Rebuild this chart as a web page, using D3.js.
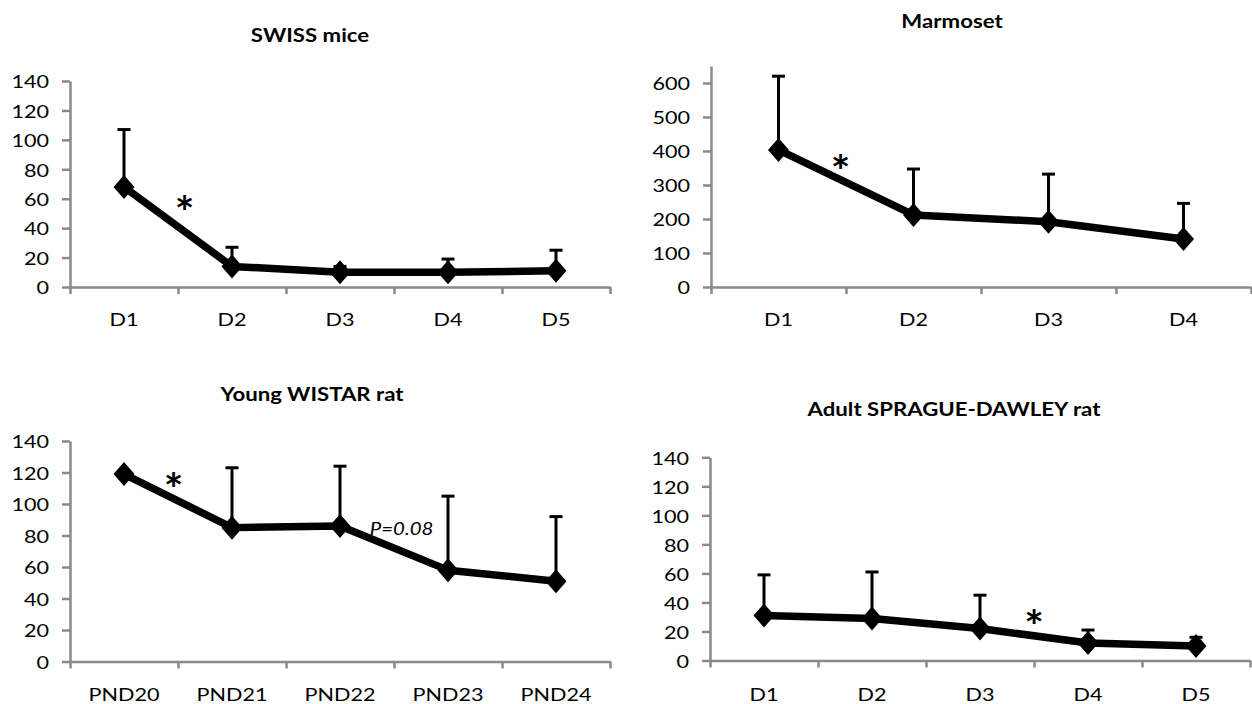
<!DOCTYPE html>
<html>
<head>
<meta charset="utf-8">
<script src="https://cdn.jsdelivr.net/npm/d3@7"></script>
<style>
  html, body { margin: 0; padding: 0; background: #fff; }
  svg { display: block; }
  text { font-family: Lato, "Open Sans", sans-serif; fill: #000; }
</style>
</head>
<body>
<svg id="chart" width="1252" height="704"></svg>
<script>
// ---------- DATA ----------
const swissTitle = "SWISS mice";
const swissCats = ["D1", "D2", "D3", "D4", "D5"];
const swissMeans = [68, 14, 10, 10, 11];
const swissErr = [39, 13, 4, 9, 14];
const swissTicks = [0, 20, 40, 60, 80, 100, 120, 140];

const marmTitle = "Marmoset";
const marmCats = ["D1", "D2", "D3", "D4"];
const marmMeans = [403, 212, 192, 141];
const marmErr = [217, 135, 140, 105];
const marmTicks = [0, 100, 200, 300, 400, 500, 600];

const wistarTitle = "Young WISTAR rat";
const wistarCats = ["PND20", "PND21", "PND22", "PND23", "PND24"];
const wistarMeans = [119, 85, 86, 58, 51];
const wistarErr = [0, 38, 38, 47, 41];
const wistarTicks = [0, 20, 40, 60, 80, 100, 120, 140];

const sdTitle = "Adult SPRAGUE-DAWLEY rat";
const sdCats = ["D1", "D2", "D3", "D4", "D5"];
const sdMeans = [31, 29, 22, 12, 10];
const sdErr = [28, 32, 23, 9, 6];
const sdTicks = [0, 20, 40, 60, 80, 100, 120, 140];

// annotations: [category position (index units), value, text, italic]
const swissNotes = [[0.56, 57, "*", false]];
const marmNotes = [[0.46, 368, "*", false]];
const wistarNotes = [[0.46, 115, "*", false], [2.57, 80.4, "P=0.08", true]];
const sdNotes = [[2.5, 30.3, "*", false]];

// ---------- LAYOUT ----------
const panels = [
  { title: swissTitle, cats: swissCats, means: swissMeans, err: swissErr, ticks: swissTicks, notes: swissNotes,
    x0: 70, x1: 610, y0: 287, y1: 81, ymax: 140, tx: 310, ty: 42, lab: 326 },
  { title: marmTitle, cats: marmCats, means: marmMeans, err: marmErr, ticks: marmTicks, notes: marmNotes,
    x0: 711, x1: 1251, y0: 287, y1: 66, ymax: 650, tx: 952, ty: 28, lab: 326 },
  { title: wistarTitle, cats: wistarCats, means: wistarMeans, err: wistarErr, ticks: wistarTicks, notes: wistarNotes,
    x0: 70, x1: 610, y0: 661.5, y1: 441, ymax: 140, tx: 312, ty: 401, lab: 701 },
  { title: sdTitle, cats: sdCats, means: sdMeans, err: sdErr, ticks: sdTicks, notes: sdNotes,
    x0: 710, x1: 1250, y0: 660.5, y1: 457.3, ymax: 140, tx: 954, ty: 416, lab: 701 }
];

const SX = 1.2; // horizontal text stretch of the original
const axisColor = "#8a8a8a";
const svg = d3.select("#chart");

function addText(g, x, y, str, opts) {
  const t = g.append("text")
    .attr("transform", `translate(${x},${y}) scale(${opts.sx || SX},1)`)
    .attr("text-anchor", opts.anchor || "middle")
    .style("font-size", (opts.size || 18) + "px")
    .text(str);
  if (opts.bold) t.style("font-weight", "bold");
  if (opts.italic) t.style("font-style", "italic");
  if (opts.baseline) t.attr("dominant-baseline", opts.baseline);
  return t;
}

panels.forEach(p => {
  const g = svg.append("g");
  const x = d3.scaleBand().domain(p.cats).range([p.x0, p.x1]).paddingInner(0).paddingOuter(0);
  const y = d3.scaleLinear().domain([0, p.ymax]).range([p.y0, p.y1]);
  const cx = i => x(p.cats[0]) + x.step() * (i + 0.5);

  // y axis
  const yAxis = d3.axisLeft(y).tickValues(p.ticks).tickSize(8).tickSizeOuter(0).tickFormat(() => "");
  const ya = g.append("g").attr("transform", `translate(${p.x0},0)`).call(yAxis);
  ya.selectAll("path, line").attr("stroke", axisColor).attr("stroke-width", 2.5);
  p.ticks.forEach(v => addText(g, p.x0 - 21, y(v), String(v), { anchor: "end", size: 18, baseline: "central" }));

  // x axis: tick marks at category boundaries
  const xb = d3.scaleLinear().domain([0, p.cats.length]).range([p.x0, p.x1]);
  const xAxis = d3.axisBottom(xb).tickValues(d3.range(p.cats.length + 1)).tickSize(7).tickSizeOuter(0).tickFormat(() => "");
  const xa = g.append("g").attr("transform", `translate(0,${p.y0})`).call(xAxis);
  xa.selectAll("path, line").attr("stroke", axisColor).attr("stroke-width", 2.5);
  p.cats.forEach((c, i) => addText(g, cx(i), p.lab, c, { size: 18 }));

  // title
  addText(g, p.tx, p.ty, p.title, { size: 18.5, bold: true });

  // error bars (upward only)
  p.means.forEach((m, i) => {
    if (!p.err[i]) return;
    const top = y(m + p.err[i]);
    g.append("line").attr("x1", cx(i)).attr("x2", cx(i)).attr("y1", y(m)).attr("y2", top)
      .attr("stroke", "#000").attr("stroke-width", 3);
    g.append("line").attr("x1", cx(i) - 6.5).attr("x2", cx(i) + 6.5).attr("y1", top).attr("y2", top)
      .attr("stroke", "#000").attr("stroke-width", 3);
  });

  // line
  const line = d3.line().x((d, i) => cx(i)).y(d => y(d));
  g.append("path").datum(p.means).attr("d", line)
    .attr("fill", "none").attr("stroke", "#000").attr("stroke-width", 7.5).attr("stroke-linejoin", "round");

  // diamond markers
  p.means.forEach((m, i) => {
    const px = cx(i), py = y(m), rx = 10.5, ry = 12;
    g.append("path").attr("d", `M${px},${py - ry}L${px + rx},${py}L${px},${py + ry}L${px - rx},${py}Z`).attr("fill", "#000");
  });

  // annotations
  p.notes.forEach(n => {
    const nx = cx(n[0]), ny = y(n[1]);
    if (n[2] === "*") {
      addText(g, nx, ny + 25, n[2], { size: 44, bold: true, sx: 1.05 });
    } else {
      addText(g, nx, ny, n[2], { size: 17, italic: true });
    }
  });
});
</script>
</body>
</html>
